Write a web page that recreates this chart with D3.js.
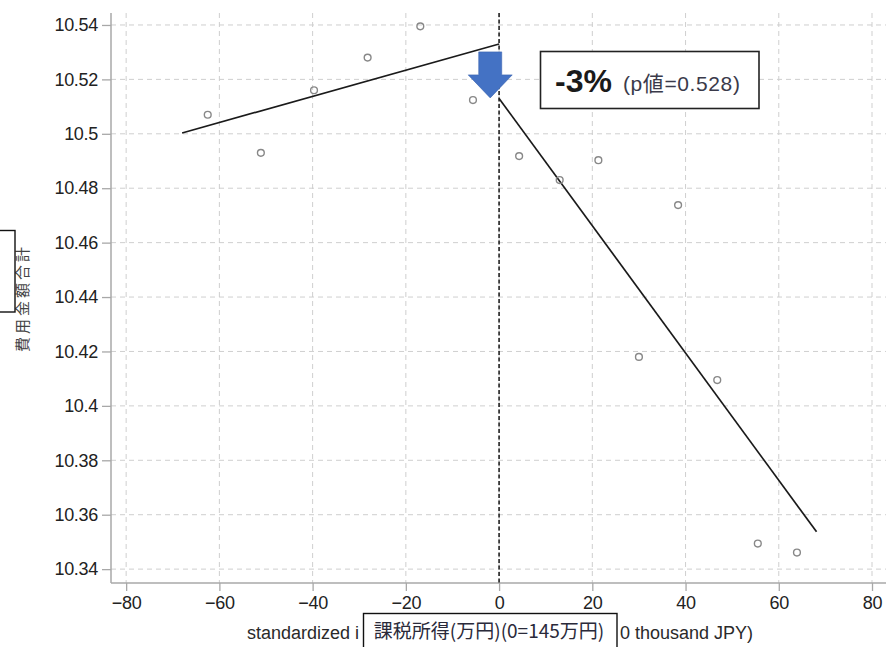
<!DOCTYPE html>
<html><head><meta charset="utf-8">
<script src="https://cdn.jsdelivr.net/npm/d3@7"></script>
<style>
html,body{margin:0;padding:0;background:#fff;}
svg{display:block;}
</style></head>
<body>
<script>
// ---- data ----
const xValues = [-62.5, -51.1, -39.7, -28.2, -16.9, -5.6, 4.3, 13.0, 21.3, 30.0, 38.4, 46.8, 55.5, 63.9];
const yValues = [10.507, 10.493, 10.516, 10.528, 10.5395, 10.5124, 10.4918, 10.483, 10.4903, 10.418, 10.4738, 10.4095, 10.3494, 10.3461];
const leftFitX = [-68, 0];
const leftFitY = [10.5003, 10.5330];
const rightFitX = [0, 68.1];
const rightFitY = [10.5130, 10.3537];
const xTicks = [-80, -60, -40, -20, 0, 20, 40, 60, 80];
const yTicks = [10.34, 10.36, 10.38, 10.40, 10.42, 10.44, 10.46, 10.48, 10.50, 10.52, 10.54];
const yTickLabels = ["10.34","10.36","10.38","10.4","10.42","10.44","10.46","10.48","10.5","10.52","10.54"];
const yLabel = "費用金額合計";
const xLabelLeft = "standardized i";
const xLabelRight = "0 thousand JPY)";
const xLabelJP = "課税所得(万円)(0=145万円)";
const effectText = "-3%";
const pText = "(p値=0.528)";

const W = 895, H = 647;
const L = 111, R = 886, T = 13, B = 583;
const svg = d3.select("body").append("svg").attr("width", W).attr("height", H);

const x = d3.scaleLinear().domain([-83.25, 83]).range([L, R]);
const y = d3.scaleLinear().domain([10.3349, 10.5444]).range([B, T]);

// grid
const grid = svg.append("g");
grid.selectAll(".gx").data(xTicks).join("line")
  .attr("x1", d => x(d)).attr("x2", d => x(d)).attr("y1", T).attr("y2", B)
  .attr("stroke", "#cfcfcf").attr("stroke-width", 1).attr("stroke-dasharray", "5,4");
grid.selectAll(".gy").data(yTicks).join("line")
  .attr("x1", L).attr("x2", R).attr("y1", d => y(d)).attr("y2", d => y(d))
  .attr("stroke", "#cfcfcf").attr("stroke-width", 1).attr("stroke-dasharray", "5,4");

// axes
const fontFam = "'Liberation Sans', Arial, sans-serif";
const yAxis = svg.append("g").attr("transform", `translate(${L},0)`)
  .call(d3.axisLeft(y).tickValues(yTicks).tickSize(9).tickPadding(4)
    .tickFormat((d, i) => yTickLabels[i]));
const xAxis = svg.append("g").attr("transform", `translate(0,${B})`)
  .call(d3.axisBottom(x).tickValues(xTicks).tickSize(8).tickPadding(5));
[yAxis, xAxis].forEach(a => {
  a.select(".domain").attr("stroke", "#a8a8a8").attr("stroke-width", 1.5);
  a.selectAll(".tick line").attr("stroke", "#a8a8a8").attr("stroke-width", 1.3);
  a.selectAll(".tick text").attr("fill", "#222").attr("font-size", 18)
    .attr("font-family", fontFam).attr("letter-spacing", "-0.3px");
});
xAxis.select(".domain").attr("d", `M${L},0H${R}`);
yAxis.select(".domain").attr("d", `M0,${B}V${T}`);

// zero dashed line
svg.append("line").attr("x1", x(0)).attr("x2", x(0)).attr("y1", T).attr("y2", B)
  .attr("stroke", "#222").attr("stroke-width", 1.6).attr("stroke-dasharray", "4,2.5");

// fit lines
const line = d3.line().x(d => x(d[0])).y(d => y(d[1]));
svg.append("path").attr("d", line(leftFitX.map((v, i) => [v, leftFitY[i]])))
  .attr("fill", "none").attr("stroke", "#1a1a1a").attr("stroke-width", 1.7);
svg.append("path").attr("d", line(rightFitX.map((v, i) => [v, rightFitY[i]])))
  .attr("fill", "none").attr("stroke", "#1a1a1a").attr("stroke-width", 1.7);

// points
svg.selectAll(".pt").data(xValues).join("circle")
  .attr("cx", d => x(d)).attr("cy", (d, i) => y(yValues[i])).attr("r", 3.4)
  .attr("fill", "none").attr("stroke", "#888").attr("stroke-width", 1.4);

// arrow annotation
const ax = x(-1.9), tipY = y(10.5132);
const arrow = d3.path();
arrow.moveTo(ax - 11.5, tipY - 46);
arrow.lineTo(ax + 11.5, tipY - 46);
arrow.lineTo(ax + 11.5, tipY - 23);
arrow.lineTo(ax + 22, tipY - 23);
arrow.lineTo(ax, tipY);
arrow.lineTo(ax - 22, tipY - 23);
arrow.lineTo(ax - 11.5, tipY - 23);
arrow.closePath();
svg.append("path").attr("d", arrow.toString()).attr("fill", "#4472C4")
  .attr("stroke", "#3a64b0").attr("stroke-width", 0.6);

// effect box
svg.append("rect").attr("x", 540.5).attr("y", 51.5).attr("width", 218.5).attr("height", 57)
  .attr("fill", "#fff").attr("stroke", "#222").attr("stroke-width", 1.6);
svg.append("text").attr("x", 555).attr("y", 92).attr("font-family", fontFam)
  .attr("font-size", 32).attr("font-weight", "bold").attr("fill", "#1a1a1a").text(effectText);
svg.append("text").attr("x", 623).attr("y", 91).attr("font-size", 21).attr("letter-spacing", "0.6px")
  .attr("fill", "#3a3a4a")
  .attr("font-family", "'Liberation Sans','Noto Sans CJK JP',sans-serif").text(pText);

// y label
svg.append("text").attr("transform", "translate(28,298) rotate(-90)")
  .attr("text-anchor", "middle").attr("font-size", 15).attr("letter-spacing", "3px")
  .attr("font-family", "'Noto Sans CJK JP', sans-serif").attr("fill", "#444").text(yLabel);
svg.append("rect").attr("x", -3).attr("y", 230.5).attr("width", 18).attr("height", 81.5)
  .attr("fill", "#fff").attr("stroke", "#111").attr("stroke-width", 1.4);

// x label
svg.append("text").attr("x", 247).attr("y", 639).attr("font-size", 18)
  .attr("font-family", fontFam).attr("fill", "#2a2a2a").text(xLabelLeft);
svg.append("text").attr("x", 753).attr("y", 639).attr("text-anchor", "end").attr("font-size", 18)
  .attr("font-family", fontFam).attr("fill", "#2a2a2a").text(xLabelRight);
svg.append("rect").attr("x", 363.5).attr("y", 613.5).attr("width", 253.5).attr("height", 45)
  .attr("fill", "#fff").attr("stroke", "#111").attr("stroke-width", 1.4);
svg.append("text").attr("x", 489).attr("y", 638).attr("text-anchor", "middle").attr("font-size", 19)
  .attr("font-family", "'Noto Sans CJK JP', sans-serif").attr("fill", "#2a2a3a").text(xLabelJP);
</script>
</body></html>
